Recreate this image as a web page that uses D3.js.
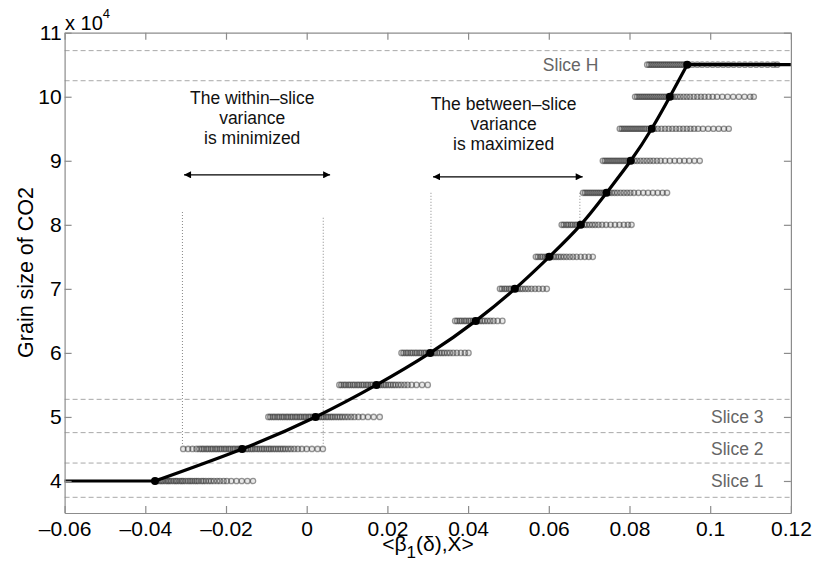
<!DOCTYPE html>
<html><head><meta charset="utf-8">
<script src="https://cdn.jsdelivr.net/npm/d3@7"></script>
<style>
body{margin:0;background:#fff}
svg{display:block;font-family:"Liberation Sans",Arial,Helvetica,sans-serif}
</style>
</head><body>
<svg id="c" width="814" height="561"></svg>
<script>
// ---------- data ----------
const xTickValues = [-0.06,-0.04,-0.02,0,0.02,0.04,0.06,0.08,0.1,0.12];
const xTickLabels = ["\u20130.06","\u20130.04","\u20130.02","0","0.02","0.04","0.06","0.08","0.1","0.12"];
const yTickValues = [4,5,6,7,8,9,10,11];
const yTickLabels = ["4","5","6","7","8","9","10","11"];

// slice levels (grain size, x 10^4) and the fitted curve x at each level
const sliceLevels = [4,4.5,5,5.5,6,6.5,7,7.5,8,8.5,9,9.5,10,10.5];
const curveX = [-0.0376,-0.0160,0.0022,0.0173,0.0306,0.0419,0.0516,0.0601,0.0679,0.0743,0.0803,0.0855,0.0900,0.0943];

// dashed slice boundaries
const sliceBounds = [3.745,4.28,4.755,5.275,10.25,10.72];
const sliceLabels = ["Slice 1","Slice 2","Slice 3","Slice H"];
const sliceLabelY = [4,4.5,5,10.5];
const sliceLabelX = [0.1067,0.1067,0.1067,0.0654];

// projected samples per slice (x values in units of 1e-3)
const s40 = [-37.6,-37.1,-36.5,-36.0,-35.6,-35.0,-34.5,-34.1,-33.6,-33.0,-32.5,-32.1,-31.5,-31.0,-30.6,-30.0,-29.4,-28.9,-28.4,-27.8,-27.3,-26.8,-26.1,-25.6,-25.0,-24.3,-23.7,-23.0,-22.2,-21.5,-20.6,-19.8,-18.7,-17.4,-16.1,-14.7,-13.3];
const s45 = [-30.6,-29.4,-28.3,-27.3,-26.6,-26.0,-25.5,-24.9,-24.4,-23.8,-23.3,-22.7,-22.2,-21.6,-21.1,-20.5,-20.0,-19.4,-18.9,-18.3,-17.8,-17.2,-16.7,-16.1,-15.6,-15.0,-14.5,-13.9,-13.4,-12.8,-12.3,-11.7,-11.1,-10.6,-10.0,-9.4,-8.9,-8.3,-7.7,-7.1,-6.5,-5.9,-5.3,-4.6,-3.9,-3.1,-2.2,-1.2,0.0,1.3,2.7,4.0];
const s50 = [-9.5,-9.0,-8.4,-7.9,-7.3,-6.8,-6.2,-5.7,-5.1,-4.6,-4.0,-3.5,-2.9,-2.4,-1.8,-1.3,-0.7,-0.2,0.4,0.9,1.5,2.0,2.6,3.1,3.7,4.2,4.8,5.3,5.9,6.4,7.0,7.6,8.2,8.8,9.5,10.2,11.0,11.8,12.8,13.9,15.2,16.6,18.1];
const s55 = [8.1,8.6,9.2,9.7,10.3,10.8,11.4,11.9,12.5,13.0,13.6,14.1,14.7,15.2,15.8,16.3,16.9,17.4,18.0,18.5,19.1,19.6,20.2,20.8,21.4,22.0,22.7,23.4,24.2,25.0,26.0,27.2,28.6,30.0];
const s60 = [23.5,24.0,24.6,25.1,25.7,26.2,26.8,27.3,27.9,28.4,29.0,29.5,30.1,30.6,31.2,31.7,32.3,32.9,33.5,34.1,34.8,35.5,36.3,37.2,38.2,39.2,40.1];
const s65 = [36.8,37.3,37.9,38.4,39.0,39.5,40.1,40.6,41.2,41.7,42.3,42.9,43.5,44.1,44.8,45.5,46.3,47.3,48.5];
const s70 = [47.9,48.4,49.0,49.5,50.1,50.6,51.2,51.7,52.3,52.9,53.5,54.2,54.9,55.7,56.6,57.5,58.5,59.5];
const s75 = [56.8,57.3,57.9,58.4,59.0,59.5,60.1,60.6,61.2,61.8,62.4,63.0,63.7,64.4,65.2,66.0,66.9,67.9,68.9,69.9,70.9];
const s80 = [63.2,63.7,64.3,64.8,65.4,65.9,66.5,67.0,67.6,68.2,68.8,69.4,70.1,70.8,71.5,72.3,73.2,74.2,75.3,76.4,77.5,78.6,79.6,80.5];
const s85 = [68.5,69.0,69.5,70.0,70.5,71.0,71.5,72.0,72.5,73.0,73.5,74.0,74.5,75.0,75.6,76.3,77.0,77.8,78.6,79.4,80.2,81.1,82.2,83.4,84.6,85.8,87.0,88.2,89.3];
const s90 = [73.4,73.9,74.4,74.9,75.4,75.9,76.4,76.9,77.4,77.9,78.4,78.9,79.4,79.9,80.5,81.2,81.9,82.7,83.5,84.3,85.1,85.9,86.8,87.7,88.8,90.0,91.2,92.4,93.6,94.8,96.1,97.4];
const s95 = [77.6,78.1,78.6,79.1,79.6,80.1,80.6,81.1,81.6,82.1,82.6,83.1,83.6,84.1,84.7,85.4,86.2,87.0,87.9,88.8,89.7,90.6,91.5,92.4,93.3,94.2,95.1,96.0,97.0,98.2,99.5,100.8,102.1,103.4,104.6];
const s100 = [81.4,81.9,82.4,82.9,83.4,83.9,84.4,84.9,85.4,85.9,86.4,86.9,87.4,87.9,88.4,88.9,89.4,90.0,90.6,91.2,91.9,92.6,93.4,94.2,95.0,95.9,96.8,97.7,98.6,99.6,100.6,101.7,103.0,104.3,105.7,107.1,108.5,109.9,110.8];
const s105 = [84.4,84.9,85.4,85.9,86.4,86.9,87.4,87.9,88.4,88.9,89.4,89.9,90.4,90.9,91.4,91.9,92.4,92.9,93.4,93.9,94.5,95.6,96.8,98.0,99.3,100.6,101.9,103.2,104.5,105.8,107.2,108.6,110.0,111.4,112.8,114.2,115.6,116.6];
const samples = [s40,s45,s50,s55,s60,s65,s70,s75,s80,s85,s90,s95,s100,s105];

// annotations (data coordinates)
const withinText = ["The within\u2013slice","variance","is minimized"];
const betweenText = ["The between\u2013slice","variance","is maximized"];
const withinAnchor = [-0.0135, 9.89];
const betweenAnchor = [0.0488, 9.80];
const withinArrow = [[-0.0304, 8.78],[0.0058, 8.78]];
const betweenArrow = [[0.0313, 8.75],[0.0684, 8.75]];
const dottedLines = [
  [[-0.0308, 8.20],[-0.0308, 4.55]],
  [[0.0041, 8.11],[0.0041, 4.55]],
  [[0.0308, 8.50],[0.0308, 6.02]],
  [[0.0677, 8.50],[0.0677, 8.05]]
];

// ---------- drawing ----------
const L = 64.6, R = 790.9, T = 32.7, B = 513;
const svg = d3.select("#c");
const x = d3.scaleLinear([-0.06, 0.12], [L, R]);
const y = d3.scaleLinear([3.5, 11], [B, T]);

// arrow marker
const defs = svg.append("defs");
defs.append("marker").attr("id","ah").attr("viewBox","0 0 10 10")
  .attr("refX",10).attr("refY",5).attr("markerWidth",9).attr("markerHeight",7)
  .attr("markerUnits","userSpaceOnUse").attr("orient","auto-start-reverse")
  .append("path").attr("d","M0,0 L10,5 L0,10 z").attr("fill","#000");

// dashed slice boundaries
svg.append("g").selectAll("line").data(sliceBounds).join("line")
  .attr("x1", x(-0.06)).attr("x2", x(0.12))
  .attr("y1", d => y(d)).attr("y2", d => y(d))
  .attr("stroke", "#a8a8a8").attr("stroke-width", 1).attr("stroke-dasharray", "5,3");

// dotted verticals
svg.append("g").selectAll("line").data(dottedLines).join("line")
  .attr("x1", d => x(d[0][0])).attr("x2", d => x(d[1][0]))
  .attr("y1", d => y(d[0][1])).attr("y2", d => y(d[1][1]))
  .attr("stroke", "#888").attr("stroke-width", 1).attr("stroke-dasharray", "1,2");

// sample circles
const pts = [];
samples.forEach((arr, i) => arr.forEach(v => pts.push([v / 1000, sliceLevels[i]])));
svg.append("g").selectAll("circle").data(pts).join("circle")
  .attr("cx", d => x(d[0])).attr("cy", d => y(d[1])).attr("r", 2.7)
  .attr("fill", "#000").attr("fill-opacity", 0.09)
  .attr("stroke", "#333").attr("stroke-opacity", 0.5).attr("stroke-width", 1.3);

// fitted curve
const curvePts = curveX.map((v, i) => [v, sliceLevels[i]]);
const lineStraight = d3.line().x(d => x(d[0])).y(d => y(d[1]));
const lineCurve = d3.line().x(d => x(d[0])).y(d => y(d[1])).curve(d3.curveNatural);
const g = svg.append("g").attr("fill","none").attr("stroke","#000").attr("stroke-width",3.2)
  .attr("stroke-linejoin","round").attr("stroke-linecap","butt");
g.append("path").attr("d", lineStraight([[-0.06, sliceLevels[0]], curvePts[0]]));
g.append("path").attr("d", lineCurve(curvePts));
g.append("path").attr("d", lineStraight([curvePts[curvePts.length-1], [0.12, sliceLevels[sliceLevels.length-1]]]));
svg.append("g").selectAll("circle").data(curvePts).join("circle")
  .attr("cx", d => x(d[0])).attr("cy", d => y(d[1])).attr("r", 4).attr("fill", "#000");

// slice labels
svg.append("g").selectAll("text").data(sliceLabels).join("text")
  .attr("x", (d, i) => x(sliceLabelX[i])).attr("y", (d, i) => y(sliceLabelY[i]))
  .attr("dy", "0.36em").attr("text-anchor", "middle")
  .attr("font-size", 17.5).attr("fill", "#666").text(d => d);

// annotation texts
function block(lines, anchor) {
  svg.append("g").selectAll("text").data(lines).join("text")
    .attr("x", x(anchor[0])).attr("y", (d, i) => y(anchor[1]) + i * 20.3)
    .attr("text-anchor", "middle").attr("font-size", 17.5).attr("fill", "#111").text(d => d);
}
block(withinText, withinAnchor);
block(betweenText, betweenAnchor);

// arrows
[withinArrow, betweenArrow].forEach(a => {
  svg.append("path").attr("d", lineStraight(a)).attr("stroke", "#000").attr("stroke-width", 1.2)
    .attr("fill","none").attr("marker-start","url(#ah)").attr("marker-end","url(#ah)");
});

// axes
function styleAxis(sel) {
  sel.select(".domain").attr("stroke", "#8c8c8c").attr("stroke-width", 1.2);
  sel.selectAll(".tick line").attr("stroke", "#8c8c8c").attr("stroke-width", 1.2);
  sel.selectAll(".tick text").attr("fill", "#000");
  sel.attr("font-family", null);
}
svg.append("g").attr("transform", `translate(0,${B})`)
  .call(d3.axisBottom(x).tickValues(xTickValues).tickFormat((d, i) => xTickLabels[i])
    .tickSizeInner(-7).tickSizeOuter(0).tickPadding(8))
  .attr("font-size", 21).call(styleAxis);
svg.append("g").attr("transform", `translate(0,${T})`)
  .call(d3.axisTop(x).tickValues(xTickValues).tickFormat("").tickSizeInner(-7).tickSizeOuter(0))
  .call(styleAxis);
svg.append("g").attr("transform", `translate(${L},0)`)
  .call(d3.axisLeft(y).tickValues(yTickValues).tickFormat((d, i) => yTickLabels[i])
    .tickSizeInner(-7).tickSizeOuter(0).tickPadding(3))
  .attr("font-size", 21).call(styleAxis);
svg.append("g").attr("transform", `translate(${R},0)`)
  .call(d3.axisRight(y).tickValues(yTickValues).tickFormat("").tickSizeInner(-7).tickSizeOuter(0))
  .call(styleAxis);

// multiplier
const mult = svg.append("text").attr("x", 65).attr("y", 30).attr("font-size", 20).attr("fill", "#000");
mult.append("tspan").text("x 10");
mult.append("tspan").attr("font-size", 13).attr("dy", -12).text("4");

// axis labels
const xl = svg.append("text").attr("x", 428).attr("y", 551).attr("text-anchor", "middle")
  .attr("font-size", 21).attr("fill", "#000");
xl.append("tspan").text("<\u03b2");
xl.append("tspan").attr("dy", 7).attr("font-size", 17).text("1");
xl.append("tspan").attr("dy", -7).text("(\u03b4),X>");

svg.append("text").attr("transform", `translate(33,${272.5}) rotate(-90)`)
  .attr("text-anchor", "middle").attr("font-size", 21.5).attr("fill", "#000")
  .text("Grain size of CO2");
</script>
</body></html>
